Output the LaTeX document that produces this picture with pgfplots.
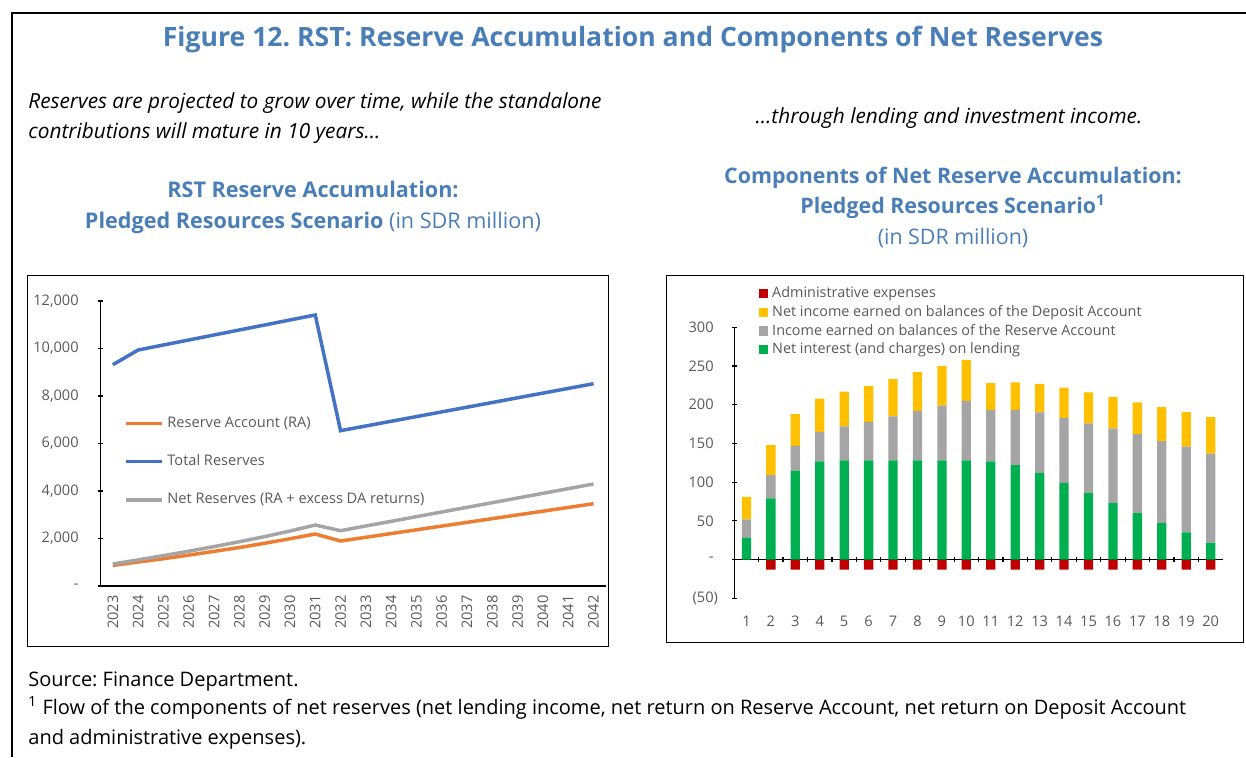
\documentclass[border=0pt]{standalone}
\usepackage{fontspec}
\setmainfont{Open Sans}
\usepackage{pgfplots}
\usepackage{pgfplotstable}
\pgfplotsset{compat=1.18}
\frenchspacing
\definecolor{tblue}{HTML}{4A7EB6}
\definecolor{tgray}{HTML}{595959}
\definecolor{cOrange}{HTML}{ED7D31}
\definecolor{cBlue}{HTML}{4472C4}
\definecolor{cGray}{HTML}{A5A5A5}
\definecolor{bGreen}{HTML}{00B050}
\definecolor{bGray}{HTML}{A5A5A5}
\definecolor{bYellow}{HTML}{FFC000}
\definecolor{bRed}{HTML}{C00000}
\pgfplotsset{sqleg/.style={legend image code/.code={\fill[##1] (0pt,-2.3pt) rectangle (4.6pt,2.3pt);}}}
\newcommand{\negfifty}{\mbox{(50\rlap{)}}}

\pgfplotstableread{
yr ra tot net
2023 870 9318 926
2024 1010 9937 1100
2025 1150 10148 1280
2026 1300 10358 1465
2027 1460 10569 1660
2028 1620 10780 1865
2029 1800 10990 2080
2030 1990 11201 2315
2031 2189 11411 2568
2032 1895 6540 2330
2033 2052 6738 2527
2034 2209 6936 2723
2035 2366 7133 2920
2036 2523 7331 3116
2037 2680 7529 3313
2038 2837 7727 3509
2039 2994 7925 3706
2040 3151 8122 3902
2041 3308 8320 4099
2042 3465 8518 4295
}\lefttab

\pgfplotstableread{
x g r y a
1 28 24 29 0
2 79 30 39 -13
3 115 32 41 -13
4 127 38 43 -13
5 128 44 45 -13
6 128 50 46 -13
7 128 57 48 -13
8 128 64 50 -13
9 128 71 51 -13
10 128 77 53 -13
11 127 66.5 34.5 -13
12 122 71.5 35.5 -13
13 112 78 37 -13
14 99 84 39 -13
15 86 90 40 -13
16 73 96 41 -13
17 60 102 41 -13
18 47 106 44 -13
19 35 111 44.5 -13
20 22 115 47 -13
}\righttab

\begin{document}
\begin{tikzpicture}[x=0.5pt,y=0.5pt]
\path[use as bounding box] (0,0) rectangle (1246,757);
\draw[line width=1pt] (12,0) -- (12,744) -- (1246,744);
\draw[line width=0.5pt] (27,111) rectangle (608,482);
\draw[line width=0.5pt] (666,115) rectangle (1243,482);

\begin{scope}[every node/.style={inner sep=0pt}]
\node[anchor=base, font=\bfseries\fontsize{13.3}{15}\selectfont, text=tblue] at (633,710) {Figure 12. RST: Reserve Accumulation and Components of Net Reserves};
\node[anchor=base west, font=\itshape\fontsize{10.4}{12}\selectfont] at (28,648) {Reserves are projected to grow over time, while the standalone};
\node[anchor=base west, font=\itshape\fontsize{10.4}{12}\selectfont] at (28,619) {contributions will mature in 10 years…};
\node[anchor=base, font=\itshape\fontsize{10.4}{12}\selectfont] at (949,634) {…through lending and investment income.};
\node[anchor=base, font=\bfseries\fontsize{10.8}{13}\selectfont, text=tblue] at (313,560) {RST Reserve Accumulation:};
\node[anchor=base, font=\fontsize{10.8}{13}\selectfont, text=tblue] at (313,529) {\textbf{Pledged Resources Scenario} (in SDR million)};
\node[anchor=base, font=\bfseries\fontsize{10.7}{13}\selectfont, text=tblue] at (953,574) {Components of Net Reserve Accumulation:};
\node[anchor=base, font=\bfseries\fontsize{10.7}{13}\selectfont, text=tblue] at (953,544) {Pledged Resources Scenario\textsuperscript{1}};
\node[anchor=base, font=\fontsize{10.7}{13}\selectfont, text=tblue] at (953,513) {(in SDR million)};
\node[anchor=base west, font=\fontsize{10}{12}\selectfont] at (28,71) {Source: Finance Department.};
\node[anchor=base west, font=\fontsize{10}{12}\selectfont] at (28,43) {\textsuperscript{1} Flow of the components of net reserves (net lending income, net return on Reserve Account, net return on Deposit Account};
\node[anchor=base west, font=\fontsize{10}{12}\selectfont] at (28,13) {and administrative expenses).};
\end{scope}

% ---------------- left chart
\begin{axis}[at={(50.1pt,85.5pt)}, anchor=south west, scale only axis,
  width=253pt, height=142.5pt,
  xmin=2022.5, xmax=2042.5, ymin=0, ymax=12000,
  scaled y ticks=false,
  axis x line=bottom, axis y line=left,
  axis line style={-, black, line width=0.6pt},
  /pgf/number format/assume math mode=true,
  tick label style={font=\fontsize{7.3}{8}\selectfont, text=tgray},
  xtick={2023,...,2042},
  xticklabels={2023,2024,2025,2026,2027,2028,2029,2030,2031,2032,2033,2034,2035,2036,2037,2038,2039,2040,2041,2042},
  minor x tick num=1,
  major x tick style={draw=none},
  minor x tick style={black, line width=0.6pt},
  minor tick length=2.5pt, major tick length=2.5pt,
  ytick={0,2000,4000,6000,8000,10000,12000},
  yticklabels={-,{2,000},{4,000},{6,000},{8,000},{10,000},{12,000}},
  y tick style={black, line width=0.6pt},
  xticklabel style={rotate=90, anchor=east},
  yticklabel style={xshift=-6pt},
  legend style={draw=none, fill=none, at={(0.047,0.61)}, anchor=north west,
    font=\fontsize{7.3}{8}\selectfont, text=tgray, row sep=8.3pt, inner sep=0pt},
  legend cell align=left,
  legend image code/.code={\draw[#1, line width=1.75pt] (0pt,0pt) -- (17.75pt,0pt);},
]
\addplot[cOrange, line width=1.75pt] table[x=yr, y=ra] {\lefttab};
\addlegendentry{Reserve Account (RA)}
\addplot[cBlue, line width=1.75pt] table[x=yr, y=tot] {\lefttab};
\addlegendentry{Total Reserves}
\addplot[cGray, line width=1.75pt] table[x=yr, y=net] {\lefttab};
\addlegendentry{Net Reserves (RA + excess DA returns)}
\end{axis}

% ---------------- right chart: red bars (separate stack)
\begin{axis}[at={(367.1pt,79.35pt)}, anchor=south west, scale only axis,
  width=244.35pt, height=135.5pt,
  xmin=0.5, xmax=20.5, ymin=-50, ymax=300,
  hide axis, ybar, bar width=4.65pt]
\addplot[fill=bRed, draw=none] table[x=x, y=a] {\righttab};
\end{axis}

% ---------------- right chart: stacked bars
\begin{axis}[at={(367.1pt,79.35pt)}, anchor=south west, scale only axis,
  width=244.35pt, height=135.5pt,
  xmin=0.5, xmax=20.5, ymin=-50, ymax=300,
  ybar stacked, bar width=4.65pt,
  axis y line=left, axis x line=middle,
  axis line style={-, black, line width=0.6pt},
  hide obscured x ticks=false, hide obscured y ticks=false,
  /pgf/number format/assume math mode=true,
  tick label style={font=\fontsize{7.3}{8}\selectfont, text=tgray},
  xtick={1,...,20},
  xticklabels={1,2,3,4,5,6,7,8,9,10,11,12,13,14,15,16,17,18,19,20},
  minor x tick num=1,
  major x tick style={draw=none},
  minor x tick style={black, line width=0.6pt},
  minor tick length=2.5pt, major tick length=2.5pt,
  ytick={-50,0,50,100,150,200,250,300},
  yticklabels={{\negfifty},{-},{50},{100},{150},{200},{250},{300}},
  y tick style={black, line width=0.6pt},
  xticklabel style={yshift=-23.5pt},
  yticklabel style={xshift=-5.5pt},
  legend style={draw=none, fill=none, at={(0.05,1.167)}, anchor=north west,
    font=\fontsize{7.2}{8}\selectfont, text=tgray, row sep=-1.6pt, inner sep=0pt},
  legend cell align=left,
  reverse legend,
]
\addplot[fill=bGreen, draw=none, sqleg] table[x=x, y=g] {\righttab};
\addlegendentry{Net interest (and charges) on lending}
\addplot[fill=bGray, draw=none, sqleg] table[x=x, y=r] {\righttab};
\addlegendentry{Income earned on balances of the Reserve Account}
\addplot[fill=bYellow, draw=none, sqleg] table[x=x, y=y] {\righttab};
\addlegendentry{Net income earned on balances of the Deposit Account}
\addlegendimage{sqleg, fill=bRed, draw=none}
\addlegendentry{Administrative expenses}
\end{axis}
\end{tikzpicture}
\end{document}
